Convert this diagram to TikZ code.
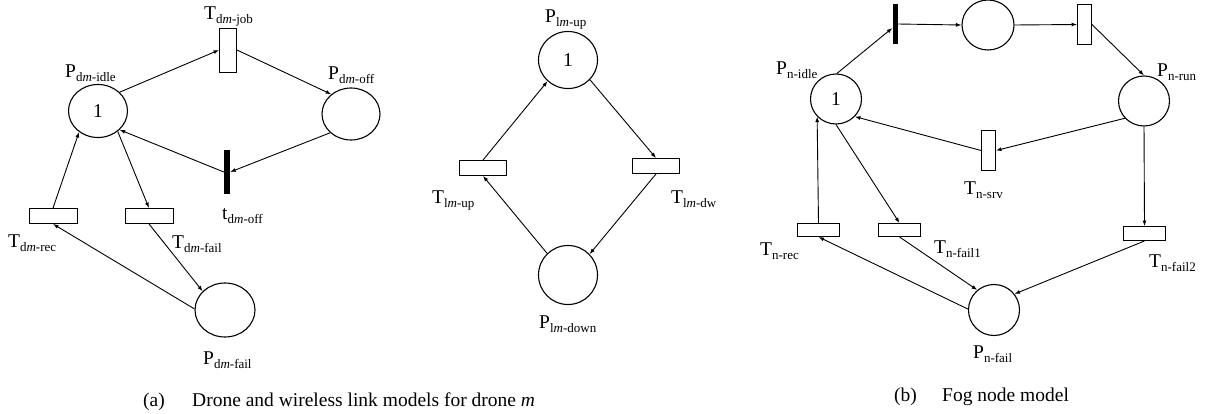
\documentclass[tikz,border=0pt]{standalone}
\usepackage{fontspec}
\setmainfont{Liberation Serif}
\usetikzlibrary{shapes.geometric,arrows.meta}
\newcommand\PNlab[2]{{\fontsize{19.5}{22}\selectfont #1}{\fontsize{13}{15}\selectfont\raisebox{-4pt}{#2}}}
\tikzset{
  place/.style={draw, ellipse, inner sep=0pt, line width=1.1pt, font=\fontsize{19.5}{22}\selectfont},
  trans/.style={draw, rectangle, inner sep=0pt, line width=0.9pt},
  imm/.style={fill=black, draw=none, rectangle, inner sep=0pt},
  arc/.style={-{Latex[length=5.5pt,width=4pt]}, line width=0.9pt},
  lab/.style={anchor=base west, inner sep=0pt},
  captext/.style={anchor=base west, inner sep=0pt, font=\fontsize{19.5}{22}\selectfont}
}
\begin{document}
\begin{tikzpicture}[x=1pt,y=-1pt]
\useasboundingbox (0,0) rectangle (1206,414);
% ---------- (a) drone model ----------
\node[place, minimum width=59pt, minimum height=53pt] (pidle) at (98,111) {1};
\node[trans, minimum width=17pt, minimum height=44pt] (tjob) at (228,50) {};
\node[place, minimum width=58pt, minimum height=52pt] (poff) at (351,114) {};
\node[imm, minimum width=6pt, minimum height=44pt] (toff) at (227,172) {};
\node[trans, minimum width=48pt, minimum height=15pt] (trec) at (53,216) {};
\node[trans, minimum width=48pt, minimum height=15pt] (tfail) at (149,216) {};
\node[place, minimum width=60pt, minimum height=54pt] (pfail) at (225,310) {};

\node[lab] (lpidle) at (65,78) {\PNlab{P}{d\textit{m}-idle}};
\node[lab] (ltjob) at (204,20) {\PNlab{T}{d\textit{m}-job}};
\node[lab] (lpoff) at (328,80) {\PNlab{P}{d\textit{m}-off}};
\node[lab] (ltoff) at (222,219) {\PNlab{t}{d\textit{m}-off}};
\node[lab] (ltrec) at (8,247) {\PNlab{T}{d\textit{m}-rec}};
\node[lab] (ltfail) at (172,248) {\PNlab{T}{d\textit{m}-fail}};
\node[lab] (lpfail) at (203,364) {\PNlab{P}{d\textit{m}-fail}};

\draw[arc] (pidle.41) -- (tjob.west);
\draw[arc] (tjob.east) -- (poff.135);
\draw[arc] (poff.222) -- (toff.east);
\draw[arc] (toff.west) -- (pidle.319);
\draw[arc] (trec.north) -- (pidle.228);
\draw[arc] (pidle.314) -- (tfail.north);
\draw[arc] (tfail.south) -- (pfail.140);
\draw[arc] (pfail.178) -- (trec.south);

% ---------- (a) wireless link model ----------
\node[place, minimum width=59pt, minimum height=57pt] (plup) at (568,60) {1};
\node[trans, minimum width=47pt, minimum height=15pt] (tlup) at (483,168) {};
\node[trans, minimum width=47pt, minimum height=15pt] (tldw) at (656,166) {};
\node[place, minimum width=59pt, minimum height=59pt] (pldown) at (568,275) {};

\node[lab] (lplup) at (545,23) {\PNlab{P}{l\textit{m}-up}};
\node[lab] (ltlup) at (432,203) {\PNlab{T}{l\textit{m}-up}};
\node[lab] (ltldw) at (671,204) {\PNlab{T}{l\textit{m}-dw}};
\node[lab] (lpldown) at (539,328) {\PNlab{P}{l\textit{m}-down}};

\draw[arc] (tlup.north) -- (plup.226);
\draw[arc] (plup.318) -- (tldw.north);
\draw[arc] (tldw.south) -- (pldown.44);
\draw[arc] (pldown.134) -- (tlup.south);

\node[captext] (capa) at (143,406) {(a)};
\node[captext] (capat) at (192,406) {Drone and wireless link models for drone \textit{m}};

% ---------- (b) fog node model ----------
\node[place, minimum width=51pt, minimum height=50pt] (pnidle) at (836,99) {1};
\node[imm, minimum width=5pt, minimum height=40pt] (nbar) at (895,24) {};
\node[place, minimum width=52pt, minimum height=50pt] (pmid) at (988,25) {};
\node[trans, minimum width=14pt, minimum height=40pt] (trun) at (1084.5,24.5) {};
\node[place, minimum width=51pt, minimum height=50pt] (pnrun) at (1144,101) {};
\node[trans, minimum width=14pt, minimum height=40pt] (tsrv) at (988.5,150.5) {};
\node[trans, minimum width=42pt, minimum height=13pt] (tnrec) at (818.5,230) {};
\node[trans, minimum width=42pt, minimum height=13pt] (tnf1) at (899.5,230) {};
\node[trans, minimum width=42pt, minimum height=14pt] (tnf2) at (1144.5,233.5) {};
\node[place, minimum width=51pt, minimum height=51pt] (pnfail) at (994,310) {};

\node[lab] (lpnidle) at (776,75) {\PNlab{P}{n-idle}};
\node[lab] (lpnrun) at (1157,77) {\PNlab{P}{n-run}};
\node[lab] (ltsrv) at (964,194) {\PNlab{T}{n-srv}};
\node[lab] (ltnrec) at (760,255) {\PNlab{T}{n-rec}};
\node[lab] (ltnf1) at (934,253) {\PNlab{T}{n-fail1}};
\node[lab] (ltnf2) at (1149,267) {\PNlab{T}{n-fail2}};
\node[lab] (lpnfail) at (973,358) {\PNlab{P}{n-fail}};

\draw[arc] (pnidle.88) -- ([yshift=-4pt]nbar.west);
\draw[arc] (nbar.east) -- (pmid.west);
\draw[arc] (pmid.east) -- (trun.west);
\draw[arc] (trun.east) -- (pnrun.north);
\draw[arc] (pnrun.222) -- (tsrv.east);
\draw[arc] (tsrv.west) -- (pnidle.317);
\draw[arc] (tnrec.north) -- (pnidle.223);
\draw[arc] (pnidle.south) -- (tnf1.north);
\draw[arc] (pnrun.south) -- (tnf2.north);
\draw[arc] (tnf1.south) -- (pnfail.130);
\draw[arc] (pnfail.178) -- (tnrec.south);
\draw[arc] (tnf2.south) -- (pnfail.38);

\node[captext] (capb) at (894,401) {(b)};
\node[captext] (capbt) at (942,401) {Fog node model};
\end{tikzpicture}
\end{document}
